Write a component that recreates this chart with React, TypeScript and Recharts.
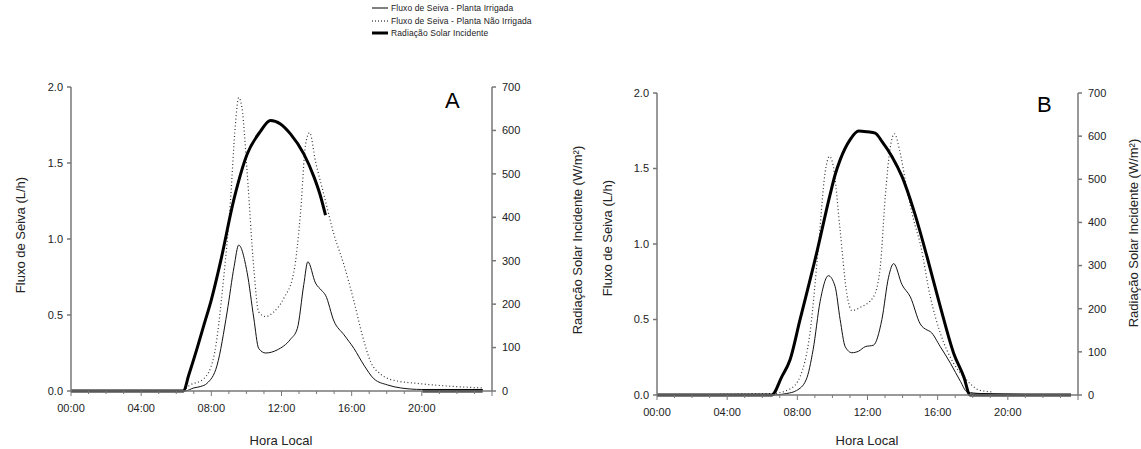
import React from "react";
import { Line, LineChart, XAxis, YAxis } from "recharts";

// horas (h) e valores
const hourTicks = [0, 1, 2, 3, 4, 5, 6, 7, 8, 9, 10, 11, 12, 13, 14, 15, 16, 17, 18, 19, 20, 21, 22, 23, 24];
const hourLabels = ["00:00", "04:00", "08:00", "12:00", "16:00", "20:00"];
const fluxTicks = [0, 0.5, 1, 1.5, 2];
const radTicks = [0, 100, 200, 300, 400, 500, 600, 700];

// Painel A
const horasIrrA = [0, 6.5, 6.99, 7.4, 7.75, 8.33, 8.9, 9.3, 9.56, 10.04, 10.42, 10.7, 11.09, 11.75, 12.51, 12.9, 13.27, 13.5, 13.94, 14.3, 14.51, 14.99, 15.56, 16.13, 16.7, 17.27, 18.04, 18.8, 20, 23.47];
const fluxoIrrA = [0, 0, 0.02, 0.03, 0.05, 0.17, 0.52, 0.82, 0.96, 0.78, 0.48, 0.28, 0.25, 0.27, 0.34, 0.41, 0.7, 0.85, 0.71, 0.66, 0.63, 0.46, 0.37, 0.28, 0.17, 0.08, 0.04, 0.02, 0.01, 0.01];

const horasNaoA = [0, 6.3, 6.8, 7.56, 8.13, 8.7, 9.09, 9.37, 9.56, 9.75, 10.04, 10.42, 10.7, 11.09, 11.56, 12.13, 12.7, 13.09, 13.37, 13.6, 13.94, 14.42, 14.99, 15.56, 16.13, 16.6, 17.09, 17.66, 18.42, 19.75, 23.47];
const fluxoNaoA = [0, 0, 0.04, 0.08, 0.22, 0.74, 1.25, 1.75, 1.93, 1.86, 1.44, 0.81, 0.52, 0.49, 0.52, 0.61, 0.78, 1.18, 1.62, 1.7, 1.51, 1.29, 1.03, 0.83, 0.59, 0.37, 0.19, 0.11, 0.07, 0.05, 0.02];

const horasRadA = [0, 6.42, 6.7, 7.2, 7.6, 8.0, 8.51, 9.28, 10.04, 10.8, 11.37, 11.94, 12.51, 13.27, 13.85, 14.2, 14.51, 17, 20.04, 23.47];
const radA = [0, 0, 35, 100, 155, 210, 295, 440, 545, 598, 623, 615, 592, 546, 493, 452, 405, null, 0, 0];

// Painel B
const horasIrrB = [0, 6.54, 7.4, 7.96, 8.5, 8.9, 9.3, 9.77, 10.15, 10.44, 10.73, 11.11, 11.49, 11.87, 12.34, 12.82, 13.2, 13.49, 13.97, 14.44, 15.01, 15.4, 15.58, 16.15, 16.73, 17.3, 17.68, 18.44, 23.6];
const fluxoIrrB = [0, 0, 0.01, 0.03, 0.1, 0.3, 0.62, 0.79, 0.72, 0.5, 0.32, 0.28, 0.29, 0.32, 0.33, 0.5, 0.78, 0.87, 0.73, 0.65, 0.47, 0.43, 0.42, 0.32, 0.21, 0.09, 0.02, 0.01, 0];

const horasNaoB = [0, 6.6, 7.58, 8.15, 8.73, 9.2, 9.58, 9.83, 10.06, 10.44, 10.82, 11.11, 11.58, 12.34, 12.73, 13.01, 13.3, 13.53, 13.87, 14.25, 14.63, 15.01, 15.58, 16.15, 16.91, 17.49, 18.44, 19.2];
const fluxoNaoB = [0, 0.01, 0.04, 0.12, 0.42, 0.98, 1.47, 1.58, 1.51, 1.09, 0.67, 0.56, 0.58, 0.65, 0.85, 1.31, 1.64, 1.73, 1.6, 1.36, 1.16, 1.0, 0.65, 0.41, 0.21, 0.12, 0.03, 0.02];

const horasRadB = [0, 6.54, 7.11, 7.58, 8.15, 9.1, 9.87, 10.15, 10.44, 11.01, 11.49, 12.0, 12.44, 12.82, 13.39, 13.97, 14.63, 15.39, 16.15, 16.91, 17.49, 17.85, 23.6];
const radB = [0, 0, 42, 81, 174, 329, 465, 510, 545, 592, 612, 610, 607, 588, 553, 506, 429, 321, 205, 97, 42, 0, 0];

const toPoints = (hours: number[], values: (number | null)[]) =>
  hours.map((h, i) => ({ h, v: values[i] }));

const FONT = "'Liberation Sans', Arial, sans-serif";
const AXIS = "#777";
const TEXT = "#222";

const HourTick = (props: any) => {
  const { x, y, payload } = props;
  const h = payload.value as number;
  const major = h % 4 === 0;
  return (
    <g>
      <line x1={x} x2={x} y1={y} y2={y + (major ? 5 : 3)} stroke={AXIS} strokeWidth={1} />
      {major && h < 24 && (
        <text x={x} y={y + 21} textAnchor="middle" fill={TEXT} fontSize={11} fontFamily={FONT}>
          {hourLabels[h / 4]}
        </text>
      )}
    </g>
  );
};

type PanelProps = {
  irr: { h: number; v: number | null }[];
  nao: { h: number; v: number | null }[];
  rad: { h: number; v: number | null }[];
  left: number;
  width: number;
  margin: { top: number; right: number; bottom: number; left: number };
};

const Panel = ({ irr, nao, rad, left, width, margin }: PanelProps) => (
  <div style={{ position: "absolute", left, top: 0 }}>
    <LineChart width={width} height={449} margin={margin}>
      <XAxis
        type="number"
        dataKey="h"
        domain={[0, 24]}
        ticks={hourTicks}
        interval={0}
        tickSize={0}
        tickMargin={0}
        tickLine={false}
        height={30}
        stroke={AXIS}
        strokeWidth={1.5}
        tick={<HourTick />}
        allowDuplicatedCategory={false}
      />
      <YAxis
        yAxisId="flux"
        orientation="left"
        domain={[0, 2]}
        ticks={fluxTicks}
        width={40}
        tickSize={4}
        tickMargin={4}
        stroke={AXIS}
        strokeWidth={1.5}
        tick={{ fill: TEXT, fontSize: 11, fontFamily: FONT }}
        tickFormatter={(v: number) => v.toFixed(1)}
      />
      <YAxis
        yAxisId="rad"
        orientation="right"
        domain={[0, 700]}
        ticks={radTicks}
        width={40}
        tickSize={4}
        tickMargin={6}
        stroke={AXIS}
        strokeWidth={1.5}
        tick={{ fill: TEXT, fontSize: 11, fontFamily: FONT }}
      />
      <Line
        yAxisId="flux"
        data={irr}
        dataKey="v"
        type="monotone"
        stroke="#111"
        strokeWidth={1}
        dot={false}
        isAnimationActive={false}
      />
      <Line
        yAxisId="flux"
        data={nao}
        dataKey="v"
        type="monotone"
        stroke="#333"
        strokeWidth={1.2}
        strokeDasharray="1 2.5"
        dot={false}
        isAnimationActive={false}
      />
      <Line
        yAxisId="rad"
        data={rad}
        dataKey="v"
        type="monotone"
        stroke="#000"
        strokeWidth={3}
        dot={false}
        connectNulls={false}
        isAnimationActive={false}
      />
    </LineChart>
  </div>
);

const legendItems = [
  { label: "Fluxo de Seiva - Planta Irrigada", width: 1, dash: undefined as string | undefined },
  { label: "Fluxo de Seiva - Planta Não Irrigada", width: 1.2, dash: "1 2" },
  { label: "Radiação Solar Incidente", width: 3, dash: undefined },
];

const textStyle: React.CSSProperties = {
  position: "absolute",
  fontFamily: FONT,
  color: TEXT,
  whiteSpace: "nowrap",
  lineHeight: 1,
};

const VLabel = ({ text, cx, cy }: { text: string; cx: number; cy: number }) => (
  <div
    style={{
      ...textStyle,
      left: cx,
      top: cy,
      fontSize: 13,
      transform: "translate(-50%, -50%) rotate(-90deg)",
    }}
  >
    {text}
  </div>
);

export default function App() {
  return (
    <div
      style={{
        position: "absolute",
        left: 0,
        top: 0,
        width: 1141,
        height: 449,
        background: "#fff",
        overflow: "hidden",
      }}
    >
      <Panel
        irr={toPoints(horasIrrA, fluxoIrrA)}
        nao={toPoints(horasNaoA, fluxoNaoA)}
        rad={toPoints(horasRadA, radA)}
        left={0}
        width={600}
        margin={{ top: 87, right: 68, bottom: 28, left: 31 }}
      />
      <Panel
        irr={toPoints(horasIrrB, fluxoIrrB)}
        nao={toPoints(horasNaoB, fluxoNaoB)}
        rad={toPoints(horasRadB, radB)}
        left={600}
        width={541}
        margin={{ top: 93, right: 23, bottom: 24, left: 17 }}
      />

      {/* legenda */}
      <div style={{ position: "absolute", left: 372, top: 2 }}>
        {legendItems.map((item) => (
          <div key={item.label} style={{ display: "flex", alignItems: "center", height: 12.5 }}>
            <svg width={16} height={6} style={{ marginRight: 3 }}>
              <line
                x1={0}
                x2={16}
                y1={3}
                y2={3}
                stroke="#000"
                strokeWidth={item.width}
                strokeDasharray={item.dash}
              />
            </svg>
            <span style={{ fontFamily: FONT, fontSize: 8.5, letterSpacing: 0.1, color: TEXT }}>
              {item.label}
            </span>
          </div>
        ))}
      </div>

      {/* títulos dos eixos */}
      <VLabel text="Fluxo de Seiva (L/h)" cx={20} cy={235} />
      <VLabel text="Radiação Solar Incidente (W/m²)" cx={577} cy={240} />
      <VLabel text="Fluxo de Seiva (L/h)" cx={607} cy={238} />
      <VLabel text="Radiação Solar Incidente (W/m²)" cx={1133} cy={233} />
      <div style={{ ...textStyle, left: 281, top: 440, fontSize: 13, transform: "translate(-50%, -50%)" }}>
        Hora Local
      </div>
      <div style={{ ...textStyle, left: 867, top: 440, fontSize: 13, transform: "translate(-50%, -50%)" }}>
        Hora Local
      </div>

      {/* letras dos painéis */}
      <div style={{ ...textStyle, left: 445, top: 90, fontSize: 22, color: "#000" }}>A</div>
      <div style={{ ...textStyle, left: 1037, top: 94, fontSize: 22, color: "#000" }}>B</div>
    </div>
  );
}
